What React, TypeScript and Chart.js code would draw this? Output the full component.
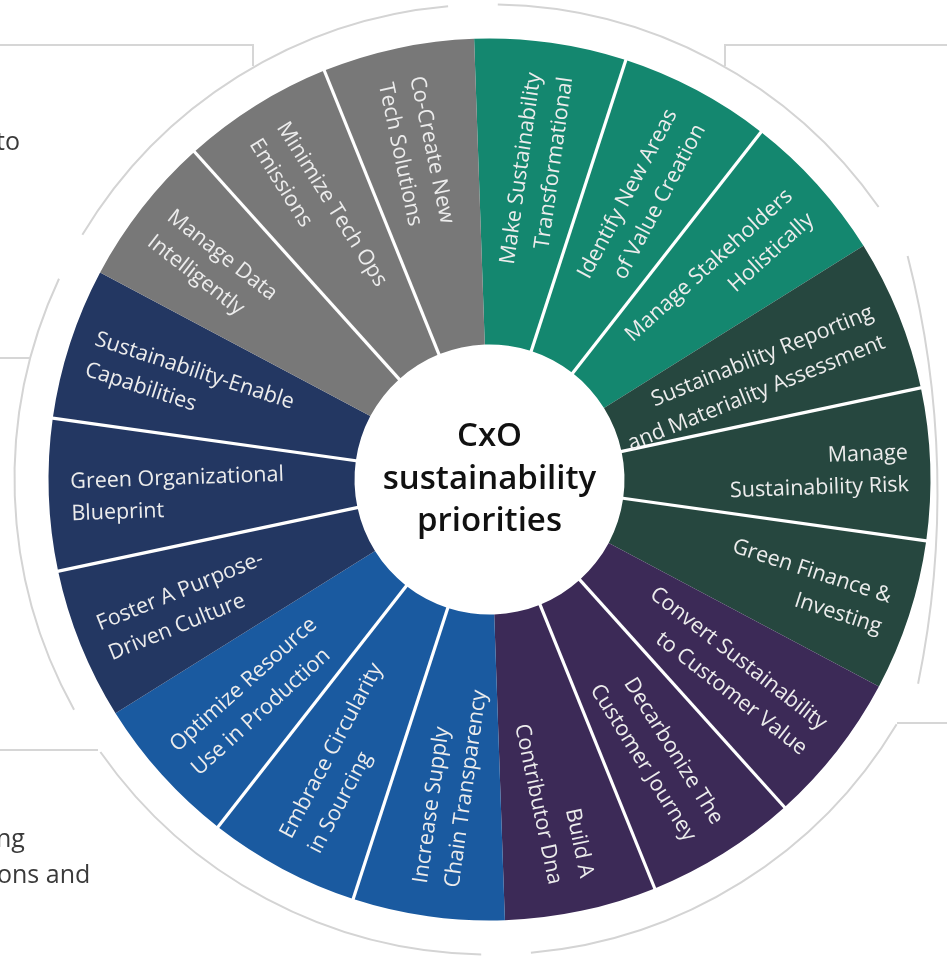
import React, { useEffect, useRef } from 'react';
import { Chart, registerables } from 'chart.js';

Chart.register(...registerables);

// ---------- data ----------
const categories = [
  'Make Sustainability Transformational',
  'Identify New Areas of Value Creation',
  'Manage Stakeholders Holistically',
  'Sustainability Reporting and Materiality Assessment',
  'Manage Sustainability Risk',
  'Green Finance & Investing',
  'Convert Sustainability to Customer Value',
  'Decarbonize The Customer Journey',
  'Build A Contributor Dna',
  'Increase Supply Chain Transparency',
  'Embrace Circularity in Sourcing',
  'Optimize Resource Use in Production',
  'Foster A Purpose-Driven Culture',
  'Green Organizational Blueprint',
  'Sustainability-Enable Capabilities',
  'Manage Data Intelligently',
  'Minimize Tech Ops Emissions',
  'Co-Create New Tech Solutions',
];

const labelLines = [
  ['Make Sustainability', 'Transformational'],
  ['Identify New Areas', 'of Value Creation'],
  ['Manage Stakeholders', 'Holistically'],
  ['Sustainability Reporting', 'and Materiality Assessment'],
  ['Manage', 'Sustainability Risk'],
  ['Green Finance &', 'Investing'],
  ['Convert Sustainability', 'to Customer Value'],
  ['Decarbonize The', 'Customer Journey'],
  ['Build A', 'Contributor Dna'],
  ['Increase Supply', 'Chain Transparency'],
  ['Embrace Circularity', 'in Sourcing'],
  ['Optimize Resource', 'Use in Production'],
  ['Foster A Purpose-', 'Driven Culture'],
  ['Green Organizational', 'Blueprint'],
  ['Sustainability-Enable', 'Capabilities'],
  ['Manage Data', 'Intelligently'],
  ['Minimize Tech Ops', 'Emissions'],
  ['Co-Create New', 'Tech Solutions'],
];

const values = [1, 1, 1, 1, 1, 1, 1, 1, 1, 1, 1, 1, 1, 1, 1, 1, 1, 1];

const segmentColors = [
  '#14876f', '#14876f', '#14876f',
  '#26473f', '#26473f', '#26473f',
  '#3c2a57', '#3c2a57', '#3c2a57',
  '#1a5aa0', '#1a5aa0', '#1a5aa0',
  '#233762', '#233762', '#233762',
  '#787878', '#787878', '#787878',
];

const centerTitle = ['CxO', 'sustainability', 'priorities'];
const sideTexts = ['to', 'ng', 'ons and'];

const GROUP_SIZE = 3;

// ---------- plugin ----------
const wheelPlugin = {
  id: 'wheelDecor',
  beforeDatasetsDraw(chart: any) {
    const ctx = chart.ctx;
    const arcs = chart.getDatasetMeta(0).data as any[];
    if (!arcs.length) return;
    const cx = arcs[0].x;
    const cy = arcs[0].y;
    const ringR = arcs[0].outerRadius + 34;
    const gap = (3 * Math.PI) / 180;
    ctx.save();
    // outer ring arcs, one per group
    ctx.strokeStyle = '#d4d4d4';
    ctx.lineWidth = 2;
    for (let g = 0; g < arcs.length; g += GROUP_SIZE) {
      if (g === 3) {
        // right-hand arc is flattened to stay inside the picture
        const ox = cx - 503;
        const oy = cy + 13;
        ctx.beginPath();
        ctx.arc(ox, oy, 951, (-14.4 * Math.PI) / 180, (11.6 * Math.PI) / 180);
        ctx.stroke();
        continue;
      }
      const s = arcs[g].startAngle + gap;
      const e = arcs[g + GROUP_SIZE - 1].endAngle - gap;
      ctx.beginPath();
      ctx.arc(cx, cy, ringR, s, e);
      ctx.stroke();
    }
    // side box borders
    ctx.strokeStyle = '#d6d6d6';
    ctx.lineWidth = 2;
    const poly = (pts: number[][]) => {
      ctx.beginPath();
      ctx.moveTo(pts[0][0], pts[0][1]);
      for (let k = 1; k < pts.length; k++) ctx.lineTo(pts[k][0], pts[k][1]);
      ctx.stroke();
    };
    poly([[0, 45], [253, 45], [253, 66]]);
    poly([[947, 45], [725, 45], [725, 66]]);
    poly([[0, 358], [30, 358]]);
    poly([[0, 750], [98, 750]]);
    poly([[947, 723], [897, 723]]);
    // side texts (partially cut)
    ctx.fillStyle = '#3a3a3a';
    ctx.font = '25px "Open Sans", "Noto Sans", sans-serif';
    ctx.textBaseline = 'alphabetic';
    ctx.textAlign = 'left';
    ctx.fillText(sideTexts[0], -4, 150);
    ctx.fillText(sideTexts[1], -4, 847);
    ctx.fillText(sideTexts[2], -3, 883);
    ctx.restore();
  },
  afterDatasetsDraw(chart: any) {
    const ctx = chart.ctx;
    const arcs = chart.getDatasetMeta(0).data as any[];
    if (!arcs.length) return;
    const cx = arcs[0].x;
    const cy = arcs[0].y;
    const inner = arcs[0].innerRadius;
    const outer = arcs[0].outerRadius;
    ctx.save();
    // white separators inside groups
    ctx.strokeStyle = '#ffffff';
    ctx.lineWidth = 3.2;
    arcs.forEach((arc: any, i: number) => {
      if (i % GROUP_SIZE === 0) return;
      const a = arc.startAngle;
      ctx.beginPath();
      ctx.moveTo(cx + Math.cos(a) * (inner - 2), cy + Math.sin(a) * (inner - 2));
      ctx.lineTo(cx + Math.cos(a) * (outer + 2), cy + Math.sin(a) * (outer + 2));
      ctx.stroke();
    });
    // labels
    const lineH = 32;
    const shiftY = 4;
    ctx.fillStyle = '#ececec';
    ctx.font = '21.5px "Open Sans", "Noto Sans", sans-serif';
    ctx.textBaseline = 'middle';
    arcs.forEach((arc: any, i: number) => {
      const mid = (arc.startAngle + arc.endAngle) / 2;
      let compass = ((mid * 180) / Math.PI + 90) % 360;
      if (compass < 0) compass += 360;
      const rightHalf = compass < 180;
      const c = Math.cos((compass * Math.PI) / 180);
      const anchorR = outer - 22 - 10 * c * c;
      const lines = labelLines[i];
      ctx.save();
      ctx.translate(cx, cy);
      if (rightHalf) {
        ctx.rotate(mid);
        ctx.textAlign = 'right';
      } else {
        ctx.rotate(mid + Math.PI);
        ctx.textAlign = 'left';
      }
      lines.forEach((ln, k) => {
        const dy = (k - (lines.length - 1) / 2) * lineH + shiftY;
        ctx.fillText(ln, rightHalf ? anchorR : -anchorR, dy);
      });
      ctx.restore();
    });
    // center title
    ctx.fillStyle = '#111111';
    ctx.font = '600 33px "Open Sans", "Noto Sans", sans-serif';
    ctx.textAlign = 'center';
    ctx.textBaseline = 'alphabetic';
    const baselines = [-34, 9, 51];
    centerTitle.forEach((t, k) => ctx.fillText(t, cx, cy + baselines[k]));
    ctx.restore();
  },
};

export default function App() {
  const canvasRef = useRef<HTMLCanvasElement | null>(null);

  useEffect(() => {
    const canvas = canvasRef.current;
    if (!canvas) return;
    const chart = new Chart(canvas, {
      type: 'doughnut',
      data: {
        labels: categories,
        datasets: [
          {
            data: values,
            backgroundColor: segmentColors,
            borderWidth: 0,
            hoverOffset: 0,
          },
        ],
      },
      options: {
        responsive: false,
        animation: false,
        rotation: -2,
        cutout: 135,
        layout: { padding: { left: 48.5, right: 16.5, top: 38.5, bottom: 39.5 } },
        plugins: {
          legend: { display: false },
          tooltip: { enabled: false },
          title: { display: false },
        },
        events: [],
      },
      plugins: [wheelPlugin],
    });
    return () => chart.destroy();
  }, []);

  return (
    <div
      style={{
        position: 'absolute',
        left: 0,
        top: 0,
        width: 947,
        height: 960,
        background: '#ffffff',
        overflow: 'hidden',
      }}
    >
      <canvas ref={canvasRef} width={947} height={960} style={{ width: 947, height: 960, display: 'block' }} />
    </div>
  );
}
